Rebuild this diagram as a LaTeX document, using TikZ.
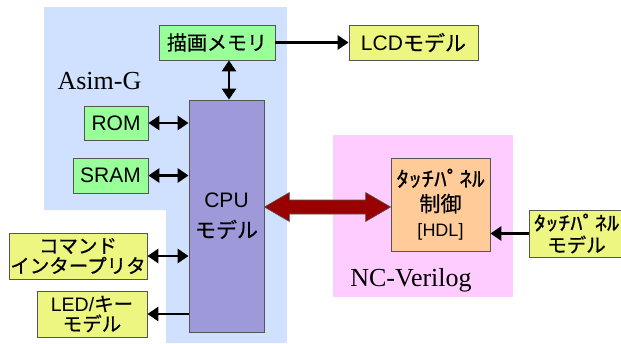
\documentclass[tikz,border=0pt]{standalone}
\usepackage{fontspec}
\setmainfont{Liberation Sans}
\newfontfamily\jpfont[FakeBold=0.6]{Noto Sans CJK JP}
\newfontfamily\labelfont{Liberation Serif}
\definecolor{asimblue}{RGB}{208,224,255}
\definecolor{ncpink}{RGB}{255,204,255}
\definecolor{memgreen}{RGB}{153,255,153}
\definecolor{modyellow}{RGB}{236,246,128}
\definecolor{cpupurple}{RGB}{158,153,217}
\definecolor{hdlorange}{RGB}{255,204,153}
\definecolor{busred}{RGB}{153,0,0}
\definecolor{boxgray}{RGB}{85,85,85}
\usetikzlibrary{arrows.meta, calc}

\begin{document}
\begin{tikzpicture}[x=1pt, y=-1pt,
    box/.style={rectangle, draw=boxgray, line width=0.8pt, align=center, inner sep=0pt, font=\fontsize{20}{20}\selectfont},
    link/.style={line width=2.8pt, -{Triangle[length=11pt,width=14pt]}},
    blink/.style={line width=2.8pt, {Triangle[length=11pt,width=14pt]}-{Triangle[length=11pt,width=14pt]}},
    bus/.style={fill=busred, draw=boxgray, line width=0.6pt, line join=miter}]
    \useasboundingbox (0,0) rectangle (621,343);
    \clip (0,0) rectangle (621,343);

    % Simulator regions
    \fill[asimblue] (44,7) -- (287,7) -- (287,343) -- (166,343) -- (166,210) -- (44,210) -- cycle;
    \fill[ncpink] (333,135) rectangle (513,297);
    \node[font=\labelfont\fontsize{26}{26}\selectfont, anchor=base] (asim) at (99.5,89) {Asim-G};
    \node[font=\labelfont\fontsize{26}{26}\selectfont, anchor=base] (ncv) at (411,286) {NC-Verilog};

    % CPU and memories
    \node[box, fill=cpupurple, minimum width=75pt, minimum height=232pt, font=\fontsize{21}{21}\selectfont] (cpu) at (226.5,216) {CPU\\[9pt]{\jpfont モデル}};
    \node[box, fill=memgreen, minimum width=116pt, minimum height=35pt] (mem) at (217,42.5) {\jpfont 描画メモリ};
    \node[box, fill=memgreen, minimum width=64pt, minimum height=34pt, font=\fontsize{21}{21}\selectfont] (rom) at (116,123) {ROM};
    \node[box, fill=memgreen, minimum width=75pt, minimum height=35pt, font=\fontsize{21}{21}\selectfont] (sram) at (110.5,175.5) {SRAM};

    % External models
    \node[box, fill=modyellow, minimum width=129pt, minimum height=35pt, font=\fontsize{21}{21}\selectfont] (lcd) at (413.5,42.5) {LCD{\jpfont モデル}};
    \node[box, fill=modyellow, minimum width=138pt, minimum height=46pt, font=\fontsize{19.5}{20}\selectfont] (cmd) at (78,256) {{\jpfont コマンド}\\{\jpfont インタープリタ}};
    \node[box, fill=modyellow, minimum width=110pt, minimum height=46pt, font=\fontsize{19.5}{20}\selectfont] (led) at (92,314) {LED/{\jpfont キー}\\{\jpfont モデル}};
    \node[box, fill=modyellow, minimum width=95pt, minimum height=47pt, font=\fontsize{19.5}{22}\selectfont] (tpm) at (576.5,233.5) {{\jpfont\scalebox{1.25}[1]{ﾀｯﾁﾊﾟﾈﾙ}}\\{\jpfont モデル}};

    % Touch panel controller
    \node[box, fill=hdlorange, minimum width=99pt, minimum height=93pt, font=\fontsize{21}{25}\selectfont] (ctrl) at (440.5,204.5) {{\jpfont\scalebox{1.2}[1]{ﾀｯﾁﾊﾟﾈﾙ}}\\{\jpfont 制御}\\{\fontsize{18}{20}\selectfont [HDL]}};

    % Connections
    \draw[link] (mem.east) -- (lcd.west);
    \draw[blink] ($(cpu.north)+(2.5,0)$) -- ($(cpu.north |- mem.south)+(2.5,0)$);
    \draw[blink] (rom.east) -- (cpu.west |- rom.east);
    \draw[blink] (sram.east) -- (cpu.west |- sram.east);
    \draw[blink] (cmd.east) -- (cpu.west |- cmd.east);
    \draw[link] (cpu.west |- led.east) -- (led.east);
    \draw[link] (tpm.west) -- (ctrl.east |- tpm.west);

    % Bus between CPU and controller
    \draw[bus] ($(cpu.east |- ctrl.west)+(0,2.5)$) -- ++(25,-14.5) -- ++(0,7.5) -- ($(ctrl.west)+(-25,-4.5)$) -- ++(0,-7.5) -- ($(ctrl.west)+(0,2.5)$) -- ++(-25,14.5) -- ++(0,-7.5) -- ($(cpu.east |- ctrl.west)+(25,9.5)$) -- ++(0,7.5) -- cycle;
\end{tikzpicture}
\end{document}
